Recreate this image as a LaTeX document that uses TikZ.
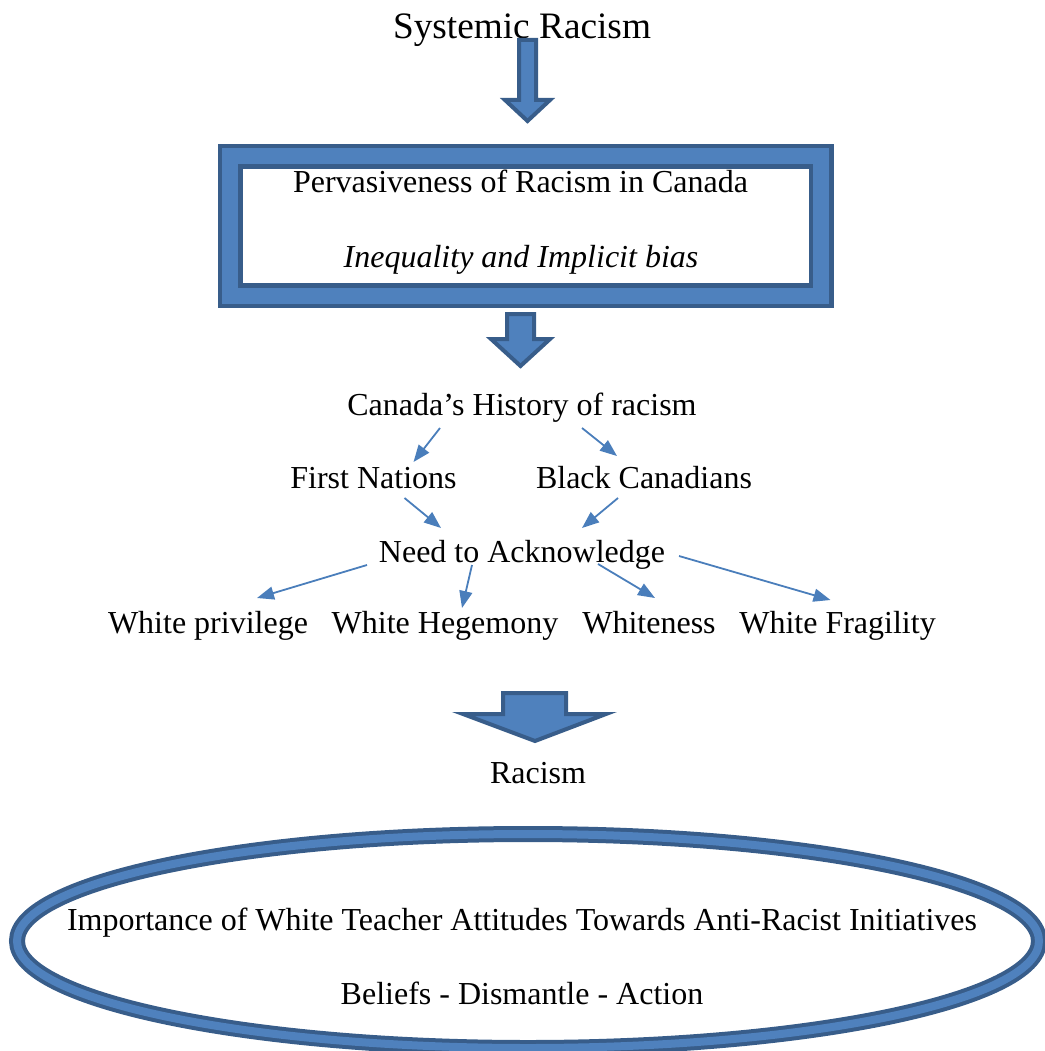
\documentclass[tikz,border=0pt]{standalone}
\usepackage{fontspec}
\setmainfont{Liberation Serif}
\usetikzlibrary{calc,arrows.meta}
\definecolor{blueL}{HTML}{4F81BD}
\definecolor{blueD}{HTML}{385D8A}
\definecolor{conn}{HTML}{4A7EBB}
\begin{document}
\begin{tikzpicture}[x=1pt,y=-1pt,
  lbl/.style={inner sep=0pt,anchor=base,font=\fontsize{32}{36}\selectfont},
  ttl/.style={inner sep=0pt,anchor=base,font=\fontsize{37.3}{42}\selectfont},
  link/.style={draw=conn,line width=1.8pt,-{Triangle[length=17pt,width=13pt]}},
  blockarrow/.style={draw=blueD,fill=blueL,line width=4pt,line join=miter}]
\useasboundingbox (0,0) rectangle (1044,1051);
% title
\node[ttl] (sys) at (522,39) {Systemic Racism};
\draw[blockarrow] (519,40) -- (536,40) -- (536,100) -- (550,100) -- (527.5,121) -- (505,100) -- (519,100) -- cycle;
% frame
\draw[blueD,line width=25pt] (230,156.5) rectangle (821,295.5);
\draw[blueL,line width=16pt] (230,156.5) rectangle (821,295.5);
\node[lbl] (perv) at (520.5,193) {Pervasiveness of Racism in Canada};
\node[lbl,font=\fontsize{32}{36}\selectfont\itshape] (ineq) at (521,267) {Inequality and Implicit bias};
% arrow 2
\draw[blockarrow] (507,314) -- (534,314) -- (534,339) -- (550,339) -- (520.5,366) -- (491,339) -- (507,339) -- cycle;
% tree
\node[lbl] (hist) at (522,415) {Canada’s History of racism};
\node[lbl] (fn) at (373.5,488) {First Nations};
\node[lbl] (bc) at (644,488) {Black Canadians};
\node[lbl] (need) at (522,562) {Need to Acknowledge};
\node[lbl] (wp) at (208,633) {White privilege};
\node[lbl] (wh) at (445,633) {White Hegemony};
\node[lbl] (w) at (649,633) {Whiteness};
\node[lbl] (wf) at (837.5,633) {White Fragility};
\draw[link] ($(hist.base)+(-82,13)$) -- ($(fn.base)+(40,-26)$);
\draw[link] ($(hist.base)+(60,13)$) -- ($(bc.base)+(-27,-32)$);
\draw[link] ($(fn.base)+(31,10)$) -- ($(need.base)+(-81,-34)$);
\draw[link] ($(bc.base)+(-26,10)$) -- ($(need.base)+(60,-34)$);
\draw[link] ($(need.base)+(-155,3)$) -- ($(wp.base)+(49,-35)$);
\draw[link] ($(need.base)+(-50,3)$) -- ($(wh.base)+(17,-25)$);
\draw[link] ($(need.base)+(76,2)$) -- ($(w.base)+(6,-35)$);
\draw[link] ($(need.base)+(157,-6)$) -- ($(wf.base)+(-7,-33)$);
% arrow 3
\draw[blockarrow] (503,693) -- (566,693) -- (566,714) -- (606,714) -- (535,741) -- (463,714) -- (503,714) -- cycle;
\node[lbl] (rac) at (538,783) {Racism};
% ellipse
\draw[blueD,line width=16pt] (528,941) ellipse [x radius=511,y radius=107];
\draw[blueL,line width=8pt] (528,941) ellipse [x radius=511,y radius=107];
\node[lbl] (imp) at (522,930) {Importance of White Teacher Attitudes Towards Anti-Racist Initiatives};
\node[lbl] (bel) at (522,1004) {Beliefs - Dismantle - Action};
\end{tikzpicture}
\end{document}
